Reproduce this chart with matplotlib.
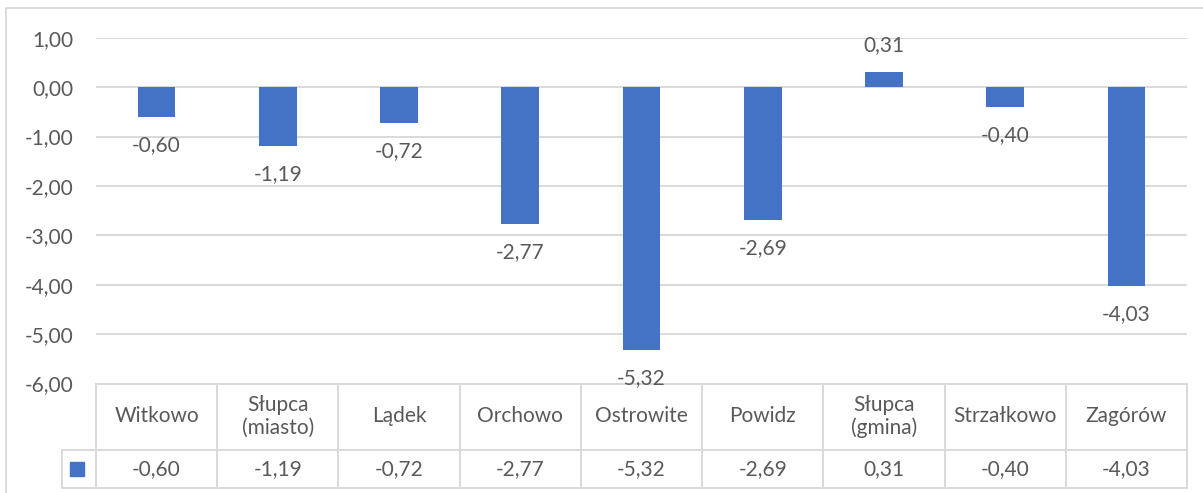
import matplotlib.pyplot as plt
from matplotlib.patches import Rectangle
from matplotlib.lines import Line2D

categories = ['Witkowo', 'Słupca\n(miasto)', 'Lądek', 'Orchowo', 'Ostrowite',
              'Powidz', 'Słupca\n(gmina)', 'Strzałkowo', 'Zagórów']
values = [-0.60, -1.19, -0.72, -2.77, -5.32, -2.69, 0.31, -0.40, -4.03]
yticks = [1, 0, -1, -2, -3, -4, -5, -6]

BAR = '#4472C4'
TXT = '#595959'
GRID = '#D9D9D9'
W, H = 1203, 493
FS = 15

plt.rcParams['font.family'] = ['Lato', 'DejaVu Sans']

def fmt(v):
    return f'{v:.2f}'.replace('.', ',')

def fx(px):
    return px / W

def fy(py):
    return 1 - py / H

fig = plt.figure(figsize=(W / 100, H / 100), dpi=100)

# chart area border
fig.add_artist(Rectangle((fx(6), fy(H + 5)), fx(W + 10), fy(8) - fy(H + 5),
                         transform=fig.transFigure, fill=False, edgecolor=GRID, lw=1.3))

left, right, top, bottom = 96, 1187, 37.7, 383.5
ax = fig.add_axes([fx(left), fy(bottom), fx(right - left), fy(top) - fy(bottom)])
ax.set_facecolor('none')
ax.set_zorder(2)

x = list(range(len(values)))
ax.bar(x, values, width=0.31, color=BAR, zorder=3)
ax.set_xlim(-0.5, len(values) - 0.5)
ax.set_ylim(-6, 1)
ax.set_yticks(yticks)
ax.set_yticklabels([fmt(t) for t in yticks], fontsize=FS, color=TXT)
ax.tick_params(axis='y', length=0, pad=16)
ax.set_xticks([])
ax.grid(axis='y', color=GRID, lw=1.4, zorder=0)
for s in ax.spines.values():
    s.set_visible(False)

for xi, v in zip(x, values):
    off = 12 if v >= 0 else -13
    ax.annotate(fmt(v), (xi, v), xytext=(0, off), textcoords='offset points',
                ha='center', va='bottom' if v >= 0 else 'top',
                fontsize=FS, color=TXT, annotation_clip=False, zorder=4)

# data table
col_w = (right - left) / len(values)
row1_top, row2_top, row_bot = 383.5, 449.5, 488
key_left = 62

def hline(x0, x1, y):
    fig.add_artist(Line2D([fx(x0), fx(x1)], [fy(y), fy(y)], color=GRID, lw=1.4,
                          transform=fig.transFigure, zorder=1))

def vline(xp, y0, y1):
    fig.add_artist(Line2D([fx(xp), fx(xp)], [fy(y0), fy(y1)], color=GRID, lw=1.4,
                          transform=fig.transFigure, zorder=1))

hline(left, right, row1_top)
hline(key_left, right, row2_top)
hline(key_left, right, row_bot)
vline(key_left, row2_top, row_bot)
for i in range(len(values) + 1):
    vline(left + i * col_w, row1_top, row_bot)

for i, (c, v) in enumerate(zip(categories, values)):
    cx = left + (i + 0.5) * col_w
    fig.text(fx(cx), fy((row1_top + row2_top) / 2), c, ha='center', va='center',
             fontsize=FS, color=TXT, linespacing=1.15)
    fig.text(fx(cx), fy((row2_top + row_bot) / 2), fmt(v), ha='center', va='center',
             fontsize=FS, color=TXT)

fig.add_artist(Rectangle((fx(70), fy(476)), fx(14), fy(462) - fy(476),
                         transform=fig.transFigure, color=BAR))

fig.savefig('out.png', dpi=100)
